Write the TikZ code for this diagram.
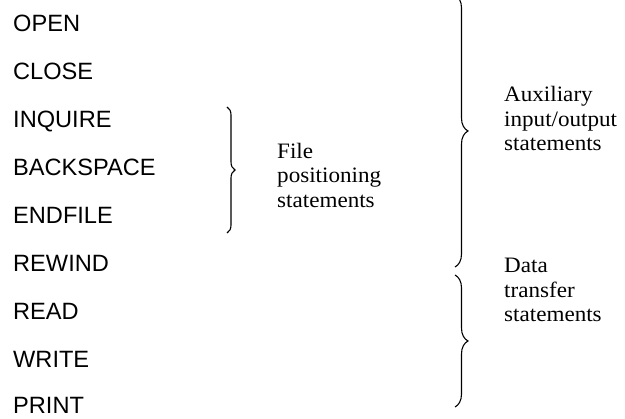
\documentclass[tikz,border=0pt]{standalone}
\usepackage{fontspec}
\setmainfont{Liberation Serif}[FakeStretch=1.05]
\newfontfamily\stmtfont{Liberation Sans}
\usetikzlibrary{decorations.pathreplacing}
\begin{document}
\begin{tikzpicture}[x=1pt,y=-1pt,
  stmt/.style={font=\stmtfont\fontsize{23.6}{28}\selectfont, anchor=base west, inner sep=0pt},
  grp/.style={font=\fontsize{22}{24.5}\selectfont, align=left, anchor=base west, inner sep=0pt},
  curly/.style={decorate, decoration={brace, amplitude=#1}, line width=1.1pt},
]
\useasboundingbox (0,0) rectangle (625,419);
\node[stmt] (open)  at (13,32)  {OPEN};
\node[stmt] (close) at (13,80)  {CLOSE};
\node[stmt] (inq)   at (13,128) {INQUIRE};
\node[stmt] (back)  at (13,176) {BACKSPACE};
\node[stmt] (endf)  at (13,224) {ENDFILE};
\node[stmt] (rew)   at (13,272) {REWIND};
\node[stmt] (read)  at (13,320) {READ};
\node[stmt] (write) at (13,367.5) {WRITE};
\node[stmt] (print) at (13,414) {PRINT};

% base anchor of a multi-line node lies on its last line
\node[grp] (file) at (277,207.3) {File\\positioning\\statements};
\node[grp] (aux)  at (504,150.7) {Auxiliary\\input/output\\statements};
\node[grp] (data) at (504,321.7) {Data\\transfer\\statements};

\coordinate (fpTop) at (227,107);
\coordinate (fpBot) at (227,233);
\coordinate (auxTop) at (455,-5);
\coordinate (auxBot) at (455,267);
\coordinate (dtTop) at (455,275);
\coordinate (dtBot) at (455,407);

\draw[curly=8]  (fpTop) -- (fpBot);
\draw[curly=13] (auxTop) -- (auxBot);
\draw[curly=13] (dtTop) -- (dtBot);
\end{tikzpicture}
\end{document}
